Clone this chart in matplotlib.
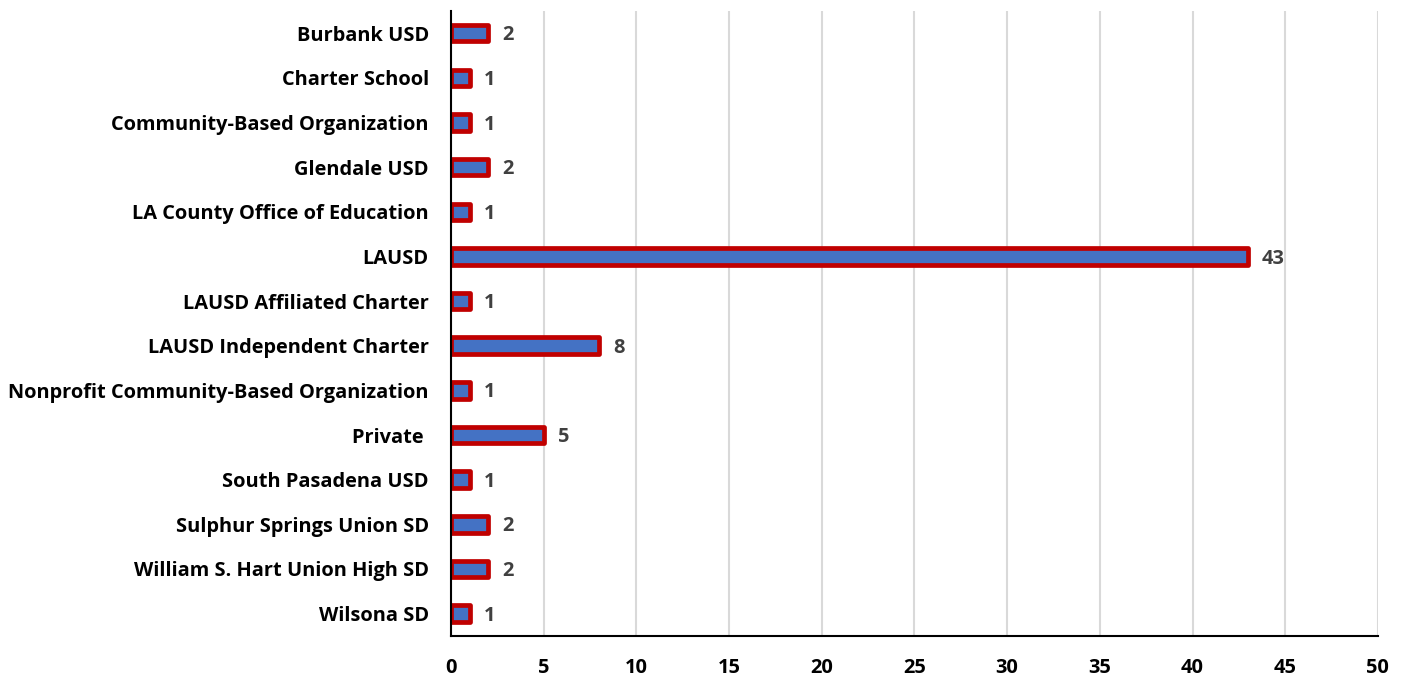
import matplotlib
matplotlib.use("Agg")
from matplotlib import pyplot as plt

matplotlib.rcParams.update({
    'font.family': ['Open Sans', 'DejaVu Sans'],
    'font.weight': 'bold',
})

categories = [
    'Burbank USD',
    'Charter School',
    'Community-Based Organization',
    'Glendale USD',
    'LA County Office of Education',
    'LAUSD',
    'LAUSD Affiliated Charter',
    'LAUSD Independent Charter',
    'Nonprofit Community-Based Organization',
    'Private ',
    'South Pasadena USD',
    'Sulphur Springs Union SD',
    'William S. Hart Union High SD',
    'Wilsona SD',
]
counts = [2, 1, 1, 2, 1, 43, 1, 8, 1, 5, 1, 2, 2, 1]
x_ticks = list(range(0, 51, 5))

fs = 14.4

fig = plt.figure(figsize=(14.06, 6.77), dpi=100)
ax = fig.add_axes([0.3208, 0.0606, 0.6592, 0.9234])

pos = list(range(len(categories)))
bars = ax.barh(pos, counts, height=0.37, color='#4472C4', edgecolor='#C00000',
               linewidth=3.4, zorder=3)
for b in bars:
    b.set_joinstyle('round')

for p, v in zip(pos, counts):
    ax.annotate(str(v), xy=(v, p), xytext=(10, -1.5), textcoords='offset points',
                va='center', ha='left', fontsize=fs, fontweight='bold', color='#404040')

ax.set_ylim(len(categories) - 0.5, -0.5)
ax.set_xlim(0, 50)
ax.set_yticks(pos)
ax.set_yticklabels(categories, fontsize=fs, fontweight='bold')
ax.set_xticks(x_ticks)
ax.set_xticklabels([str(t) for t in x_ticks], fontsize=fs, fontweight='bold')
ax.tick_params(axis='y', length=0, pad=16)
ax.tick_params(axis='x', length=0, pad=16)

ax.grid(axis='x', color='#D9D9D9', linewidth=1.5, zorder=0)
ax.set_axisbelow(True)
for s in ['top', 'right']:
    ax.spines[s].set_visible(False)
ax.spines['left'].set_linewidth(1.5)
ax.spines['bottom'].set_linewidth(1.5)
ax.spines['left'].set_zorder(4)

fig.savefig('out.png', dpi=100)
